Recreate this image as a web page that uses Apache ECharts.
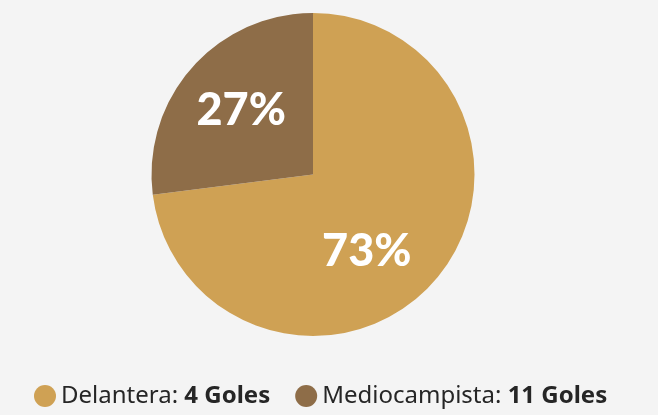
<!DOCTYPE html>
<html>
<head>
<meta charset="utf-8">
<script src="https://cdn.jsdelivr.net/npm/echarts@6/dist/echarts.min.js"></script>
<style>
  html, body { margin: 0; padding: 0; background: #f4f4f4; }
  #chart { width: 658px; height: 415px; }
</style>
</head>
<body>
<div id="chart"></div>
<script>
// data
var categories = ['Delantera', 'Mediocampista'];
var goles = [4, 11];
var shares = [73, 27];
var colors = ['#cfa154', '#8e6d48'];
// nudge of each inside label from its default spot
var labelNudge = [[-9, 22], [-9, -9]];

var myChart = echarts.init(document.getElementById('chart'));

var pieData = [];
for (var i = 0; i < categories.length; i++) {
    pieData.push({
        name: categories[i],
        value: shares[i],
        itemStyle: { color: colors[i] },
        label: { offset: labelNudge[i] }
    });
}

var option = {
    backgroundColor: '#f4f4f4',
    animation: false,
    legend: {
        bottom: 2,
        left: 29,
        icon: 'circle',
        itemWidth: 22,
        itemHeight: 22,
        itemGap: 25,
        selectedMode: false,
        data: categories,
        formatter: function (name) {
            var idx = categories.indexOf(name);
            return name + ': {b|' + goles[idx] + ' Goles}';
        },
        textStyle: {
            fontFamily: 'Noto Sans',
            fontSize: 24,
            color: '#262626',
            rich: {
                b: { fontFamily: 'Noto Sans', fontSize: 24, fontWeight: 'bold', color: '#262626' }
            }
        }
    },
    series: [
        {
            type: 'pie',
            center: [313, 174.5],
            radius: [0, 161.5],
            startAngle: 90,
            clockwise: true,
            silent: true,
            label: {
                show: true,
                position: 'inside',
                formatter: '{c}%',
                color: '#ffffff',
                fontFamily: 'Lato',
                fontWeight: 900,
                fontSize: 45
            },
            labelLine: { show: false },
            itemStyle: { borderWidth: 0 },
            data: pieData
        }
    ]
};
myChart.setOption(option);
</script>
</body>
</html>
